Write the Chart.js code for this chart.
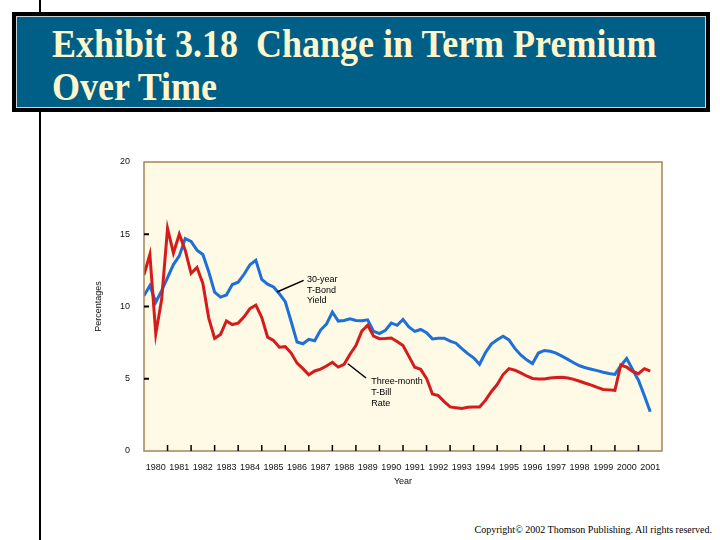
<!DOCTYPE html>
<html>
<head>
<meta charset="utf-8">
<title>Exhibit 3.18 Change in Term Premium Over Time</title>
<script src="https://cdn.jsdelivr.net/npm/chart.js@4.4.1/dist/chart.umd.min.js"></script>
<style>
  html, body { margin: 0; padding: 0; background: #fff; }
  body { width: 720px; height: 540px; position: relative; overflow: hidden; }
  .slide-rule { position: absolute; left: 39px; top: 0; width: 2px; height: 540px; background: #000; }
  .banner { position: absolute; left: 12px; top: 12px; width: 698px; height: 100px; padding: 4px; box-sizing: border-box; background: #000; }
  .banner__inner { position: relative; width: 100%; height: 100%; box-sizing: border-box; background: #005f87; border: 1px solid #c9d3d8; }
  .banner__title {
    position: absolute; left: 35px; top: 6px; margin: 0;
    font: bold 36px "Liberation Serif", "Times New Roman", serif;
    line-height: 39px; color: #fff7cc; white-space: pre;
    transform: scaleY(1.1); transform-origin: top left;
  }
  .chart-box { position: absolute; left: 0; top: 150px; width: 720px; height: 341px; }
  .copyright { position: absolute; right: 8px; top: 524px; font: 10px "Liberation Serif", "Times New Roman", serif; color: #000; }
</style>
</head>
<body>
  <div class="slide-rule"></div>
  <div class="banner">
    <div class="banner__inner">
      <h1 class="banner__title">Exhibit 3.18  Change in Term Premium
Over Time</h1>
    </div>
  </div>
  <div class="chart-box"><canvas id="term-premium-chart"></canvas></div>
  <div class="copyright">Copyright© 2002 Thomson Publishing. All rights reserved.</div>

<script>
  // Year labels along the bottom axis (one per year band).
  const yearLabels = ['1980', '1981', '1982', '1983', '1984', '1985', '1986', '1987',
    '1988', '1989', '1990', '1991', '1992', '1993', '1994', '1995', '1996', '1997',
    '1998', '1999', '2000', '2001'];

  const yTicks = [0, 5, 10, 15, 20];

  // Quarterly readings, 1980 Q1 onward.
  const startYear = 1980;
  const pointsPerYear = 4;

  const bondYield = [
    10.75, 11.45, 10.3, 11.1,
    12.0, 12.9, 13.5, 14.7,
    14.5, 13.9, 13.6, 12.4,
    11.0, 10.65, 10.8, 11.52,
    11.68, 12.23, 12.89, 13.2,
    11.87, 11.55, 11.35, 10.88,
    10.33, 8.96, 7.54, 7.42,
    7.73, 7.63, 8.37, 8.78,
    9.62, 8.99, 9.03, 9.15,
    9.03, 9.01, 9.08, 8.28,
    8.13, 8.35, 8.86, 8.7,
    9.1, 8.58, 8.28, 8.41,
    8.19, 7.76, 7.8, 7.81,
    7.6, 7.46, 7.08, 6.74,
    6.45, 6.0, 6.8, 7.4,
    7.7, 7.94, 7.69, 7.1,
    6.65, 6.31, 6.05, 6.78,
    6.96, 6.9, 6.77, 6.56,
    6.34, 6.11, 5.9, 5.76,
    5.66, 5.56, 5.45, 5.36,
    5.3, 5.9, 6.4, 5.64,
    4.9, 3.83, 2.72,
  ];

  const billRate = [
    12.2, 13.6, 8.1, 10.5,
    15.4, 13.7, 15.0, 13.9,
    12.3, 12.7, 11.6, 9.2,
    7.8, 8.07, 9.0, 8.75,
    8.85, 9.29, 9.85, 10.1,
    9.25, 7.88, 7.65, 7.18,
    7.22, 6.78, 6.08, 5.7,
    5.28, 5.54, 5.67, 5.88,
    6.14, 5.81, 6.0, 6.7,
    7.3, 8.3, 8.7, 7.95,
    7.77, 7.79, 7.82, 7.58,
    7.3, 6.55, 5.8, 5.65,
    5.03, 3.95, 3.83, 3.42,
    3.05, 3.0, 2.95, 3.02,
    3.04, 3.04, 3.5, 4.1,
    4.6, 5.29, 5.7, 5.59,
    5.4, 5.19, 5.02, 4.98,
    4.98, 5.05, 5.09, 5.11,
    5.05, 4.96, 4.83, 4.69,
    4.56, 4.4, 4.26, 4.23,
    4.2, 5.95, 5.8, 5.5,
    5.35, 5.7, 5.52,
  ];

  (function () {
    'use strict';

    const TICK_FONT = { family: '"Liberation Sans", Arial, sans-serif', size: 9 };
    const PLOT_BG = '#fffae6';
    const FRAME = '#a58455';

    // Callout labels, placed in data units (year, percent).
    const notes = [
      { lines: ['30-year', 'T-Bond', 'Yield'], text: [1986.92, 11.88], from: [1986.78, 11.81], to: [1985.65, 11.0] },
      { lines: ['Three-month', 'T-Bill', 'Rate'], text: [1989.65, 4.78], from: [1988.66, 6.04], to: [1989.43, 5.05] },
    ];

    // ===========================================================================
    // PLOT FRAME, INNER TICKS AND CALLOUTS
    // ===========================================================================

    const plotFrame = {
      id: 'plotFrame',
      beforeDatasetsDraw(chart) {
        const { ctx, chartArea: a } = chart;
        ctx.save();
        ctx.fillStyle = PLOT_BG;
        ctx.fillRect(a.left, a.top, a.right - a.left, a.bottom - a.top);
        ctx.restore();
      },
      afterDatasetsDraw(chart) {
        const { ctx, chartArea: a, scales } = chart;
        ctx.save();

        ctx.strokeStyle = FRAME;
        ctx.lineWidth = 1.5;
        ctx.strokeRect(a.left, a.top, a.right - a.left, a.bottom - a.top);

        // Inward tick marks.
        ctx.strokeStyle = '#000';
        ctx.lineWidth = 1.5;
        yearLabels.slice(1).forEach(label => {
          const x = scales.x.getPixelForValue(Number(label));
          ctx.beginPath();
          ctx.moveTo(x, a.bottom);
          ctx.lineTo(x, a.bottom - 6);
          ctx.stroke();
        });
        ctx.lineWidth = 2;
        yTicks.slice(1, -1).forEach(v => {
          const y = scales.y.getPixelForValue(v);
          ctx.beginPath();
          ctx.moveTo(a.left, y);
          ctx.lineTo(a.left + 5, y);
          ctx.stroke();
        });

        // Callouts.
        ctx.lineWidth = 1.5;
        ctx.fillStyle = '#000';
        ctx.font = '9px "Liberation Sans", Arial, sans-serif';
        ctx.textBaseline = 'middle';
        notes.forEach(n => {
          ctx.beginPath();
          ctx.moveTo(scales.x.getPixelForValue(n.from[0]), scales.y.getPixelForValue(n.from[1]));
          ctx.lineTo(scales.x.getPixelForValue(n.to[0]), scales.y.getPixelForValue(n.to[1]));
          ctx.stroke();
          const tx = scales.x.getPixelForValue(n.text[0]);
          const ty = scales.y.getPixelForValue(n.text[1]);
          n.lines.forEach((line, i) => ctx.fillText(line, tx, ty + i * 10.7));
        });

        ctx.restore();
      },
    };

    // ===========================================================================
    // CHART
    // ===========================================================================

    function toPoints(values) {
      return values.map((v, i) => ({ x: startYear + i / pointsPerYear, y: v }));
    }

    new Chart(document.getElementById('term-premium-chart'), {
      type: 'line',
      data: {
        datasets: [
          {
            label: 'Three-month T-Bill Rate',
            data: toPoints(billRate),
            borderColor: '#d51c1c',
            borderWidth: 3,
            pointRadius: 0,
            tension: 0,
            fill: false,
          },
          {
            label: '30-year T-Bond Yield',
            data: toPoints(bondYield),
            borderColor: '#1f6fd8',
            borderWidth: 3,
            pointRadius: 0,
            tension: 0,
            fill: false,
          },
        ],
      },
      options: {
        responsive: true,
        maintainAspectRatio: false,
        animation: false,
        layout: { padding: { left: 88, top: 12, right: 58, bottom: 0 } },
        plugins: {
          legend: { display: false },
          tooltip: { enabled: false },
        },
        scales: {
          x: {
            type: 'linear',
            min: startYear,
            max: Number(yearLabels[yearLabels.length - 1]) + 1,
            grid: { display: false },
            border: { display: false },
            afterBuildTicks(scale) {
              scale.ticks = yearLabels.map(l => ({ value: Number(l) + 0.5 }));
            },
            afterFit(scale) { scale.height = 40; },
            ticks: {
              autoSkip: false,
              maxRotation: 0,
              minRotation: 0,
              padding: 3,
              color: '#111',
              font: TICK_FONT,
              callback: value => String(Math.floor(value)),
            },
            title: {
              display: true,
              text: 'Year',
              color: '#111',
              font: TICK_FONT,
              padding: { top: 0, bottom: 4 },
            },
          },
          y: {
            min: yTicks[0],
            max: yTicks[yTicks.length - 1],
            grid: { display: false },
            border: { display: false },
            afterBuildTicks(scale) {
              scale.ticks = yTicks.map(v => ({ value: v }));
            },
            afterFit(scale) { scale.width = 56; },
            ticks: {
              padding: 6,
              color: '#111',
              font: TICK_FONT,
            },
            title: {
              display: true,
              text: 'Percentages',
              color: '#111',
              font: TICK_FONT,
              padding: { top: 5, bottom: 0 },
            },
          },
        },
      },
      plugins: [plotFrame],
    });
  })();
</script>
</body>
</html>
